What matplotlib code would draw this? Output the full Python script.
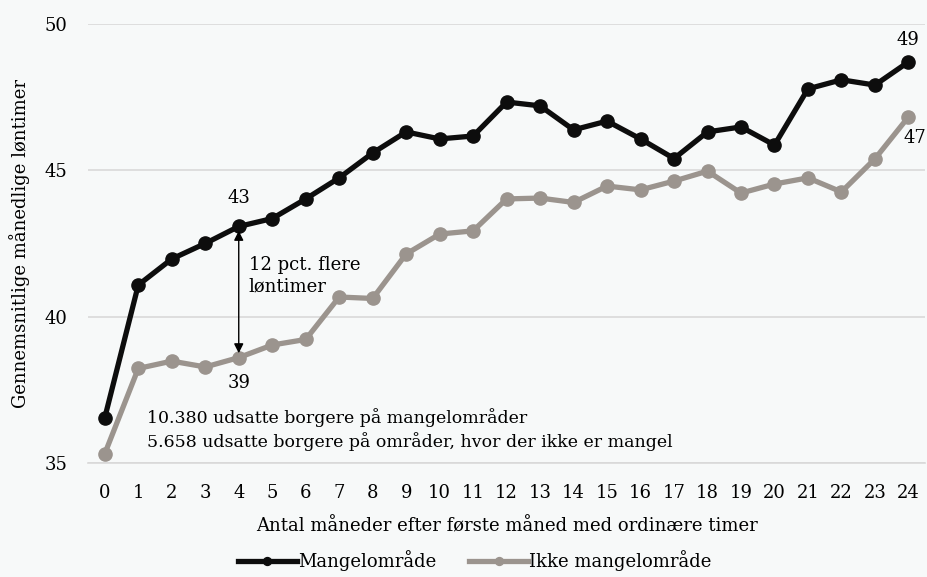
import matplotlib.pyplot as plt
import numpy as np

plt.rcParams['font.family'] = ['DejaVu Serif']

maaneder = list(range(25))
mangel = [36.55, 41.08, 41.97, 42.50, 43.08, 43.35, 44.02, 44.74, 45.59, 46.31, 46.07, 46.17,
          47.33, 47.20, 46.38, 46.68, 46.07, 45.40, 46.31, 46.48, 45.86, 47.78, 48.09, 47.91, 48.70]
ikke_mangel = [35.32, 38.23, 38.48, 38.28, 38.60, 39.03, 39.22, 40.67, 40.62, 42.14, 42.82, 42.93,
               44.02, 44.05, 43.90, 44.46, 44.33, 44.63, 44.97, 44.22, 44.53, 44.74, 44.26, 45.39, 46.82]
yticks = [35, 40, 45, 50]

bg = '#f7f9f9'
sort = '#0d0d0d'
graa = '#9b948e'
fs = 13

fig = plt.figure(figsize=(9.27, 5.77), dpi=100, facecolor=bg)
ax = fig.add_axes([0.095, 0.1976, 0.903, 0.761], facecolor=bg)

ax.plot(maaneder, mangel, color=sort, lw=3.8, marker='o', ms=9.5, label='Mangelområde', zorder=3)
ax.plot(maaneder, ikke_mangel, color=graa, lw=3.8, marker='o', ms=9.5, label='Ikke mangelområde', zorder=2)

ax.set_xlim(-0.5, 24.5)
ax.set_ylim(35, 50)
ax.set_yticks(yticks)
ax.set_xticks(maaneder)
ax.grid(axis='y', color='#d9d9d9', lw=1.2)
ax.set_axisbelow(True)
for s in ['top', 'right', 'left']:
    ax.spines[s].set_visible(False)
ax.spines['bottom'].set_color('#d9d9d9')
ax.spines['bottom'].set_linewidth(1.2)
ax.tick_params(length=0, labelsize=fs, pad=15)
ax.tick_params(axis='y', pad=15)

ax.set_xlabel('Antal måneder efter første måned med ordinære timer', fontsize=fs, labelpad=11)
ax.set_ylabel('Gennemsnitlige månedlige løntimer', fontsize=fs, labelpad=10)

# værdilabels
ax.annotate('43', (4, mangel[4]), xytext=(0, 14), textcoords='offset points', ha='center', va='bottom', fontsize=fs)
ax.annotate('39', (4, ikke_mangel[4]), xytext=(0, -12), textcoords='offset points', ha='center', va='top', fontsize=fs)
ax.annotate('49', (24, mangel[24]), xytext=(0, 9), textcoords='offset points', ha='center', va='bottom', fontsize=fs)
ax.annotate('47', (24, ikke_mangel[24]), xytext=(5, -9), textcoords='offset points', ha='center', va='top', fontsize=fs,
            annotation_clip=False)

# pil mellem serierne
ax.annotate('', xy=(4, mangel[4] - 0.15), xytext=(4, ikke_mangel[4] + 0.15),
            arrowprops=dict(arrowstyle='<|-|>', color='black', lw=1, mutation_scale=14, shrinkA=0, shrinkB=0))
ax.text(4.3, 41.4, '12 pct. flere\nløntimer', fontsize=fs, va='center', ha='left', linespacing=1.3)

ax.text(1.25, 36.15, '10.380 udsatte borgere på mangelområder\n5.658 udsatte borgere på områder, hvor der ikke er mangel',
        fontsize=12.5, va='center', ha='left', linespacing=1.35)

fig.legend(loc='lower center', bbox_to_anchor=(0.512, -0.018), ncol=2, frameon=False, fontsize=fs,
           handlelength=3.3, columnspacing=1.8, handletextpad=0.05, markerscale=0.6)

fig.savefig('out.png', dpi=100, facecolor=bg)
